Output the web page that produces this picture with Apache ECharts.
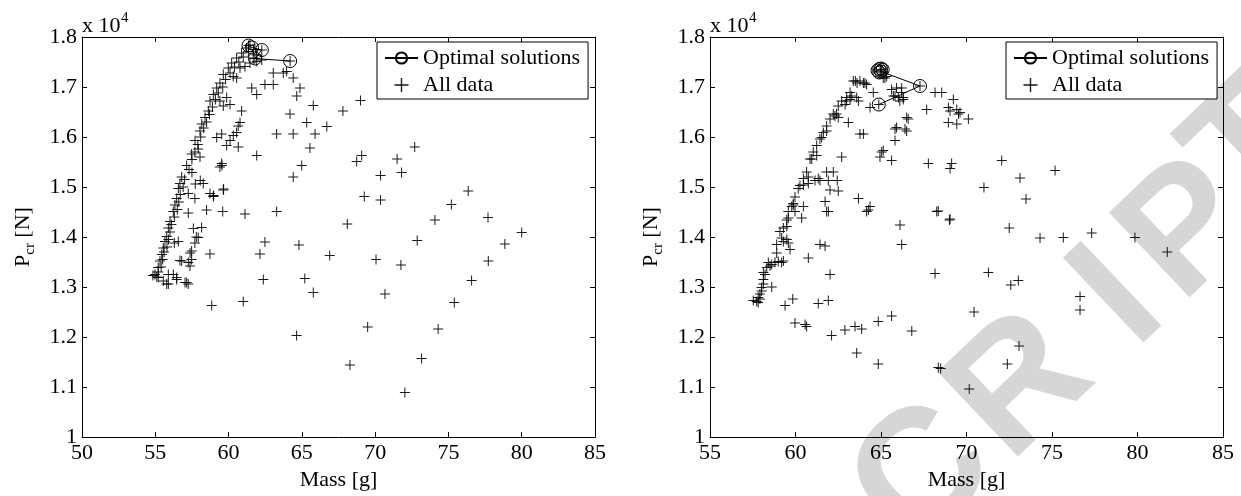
<!DOCTYPE html>
<html>
<head>
<meta charset="utf-8">
<script src="https://cdn.jsdelivr.net/npm/echarts@6/dist/echarts.min.js"></script>
<style>
html,body{margin:0;padding:0;background:#fff;}
#chart{width:1241px;height:496px;}
</style>
</head>
<body>
<div id="chart"></div>
<script>
// ---------------- DATA ----------------
// Mass [g], P_cr [N]
const leftOptimal = [[61.36,17830],[61.6,17790],[62.27,17740],[61.8,17570],[64.2,17520]];
const leftAll = [
[61.46,17840],[61.23,17780],[60.89,17680],[60.55,17580],[60.21,17480],[59.98,17380],[59.64,17250],[59.41,17080],[59.19,16980],[58.96,16850],[58.73,16720],[58.62,16520],[58.39,16390],[58.17,16260],[58.05,16120],[57.71,15930],[57.48,15660],[57.14,15430],[56.8,15200],[56.68,15070],[56.57,14970],[56.46,14770],[56.34,14640],[56.23,14510],[56.0,14310],[55.89,14180],[55.78,14010],[55.66,13910],[55.55,13780],[55.44,13650],[55.32,13520],[55.2,13390],[54.98,13250],[54.84,13230],
[61.7,17750],[61.0,17600],[60.7,17500],[60.4,17400],[60.1,17280],[59.8,17150],[59.6,17000],[59.3,16880],[59.1,16750],[58.9,16600],[58.7,16450],[58.5,16300],[58.3,16180],[58.1,16000],[57.9,15850],[57.7,15700],[57.5,15550],[57.3,15350],[57.0,15150],[56.9,15000],[56.7,14850],[56.6,14700],[56.5,14550],[56.3,14400],[56.1,14250],[56.0,14100],[55.9,13950],[55.8,13800],[55.6,13700],[55.5,13550],[55.4,13400],[55.2,13300],[55.1,13200],
[60.32,17210],[60.55,17180],[60.78,17380],[61.12,17410],[61.46,17480],[61.92,17510],[62.26,17540],[61.92,17640],[61.69,17580],[61.35,17710],[62.27,17740],[61.8,17570],[64.2,17520],[61.36,17830],
[58.05,15600],[57.93,15760],[59.41,15400],[59.53,15470],[59.19,15990],[59.53,16060],[59.87,15830],[60.1,15930],[60.32,16030],[60.55,16090],[60.66,16220],[60.78,16290],[60.66,15800],[60.89,16520],[61.92,15630],[59.87,16790],[60.1,16650],[59.64,16620],[59.41,16720],[61.58,16980],[61.92,16850],[62.48,17050],[63.05,17050],[63.05,17280],[63.73,17280],[63.96,17310],[64.41,17180],[64.87,16980],[64.65,16820],[64.19,16460],[65.33,16290],[63.28,16060],[64.41,16060],[64.99,15430],[64.41,15200],[65.9,16060],[65.78,16630],[65.55,15780],[59.55,15430],[59.66,14960],[58.98,14830],[58.07,15130],[57.73,15060],[57.5,15290],
[66.7,16210],[67.8,16520],[69.0,16730],[68.74,15510],[69.08,15630],[70.37,15230],[71.5,15560],[71.8,15290],[72.7,15800],[69.26,14810],[70.37,14740],[68.1,14260],[74.08,14340],[75.2,14650],[76.35,14920],[77.7,14390],[80.0,14090],[72.87,13930],[78.85,13860],
[66.9,13630],[70.06,13550],[71.76,13440],[65.2,13170],[65.78,12890],[70.67,12860],[69.49,12200],[68.28,11440],[72.03,10890],[73.17,11570],[74.3,12160],[75.4,12690],[76.58,13130],[77.72,13520],
[64.64,12030],[61.0,12710],[58.85,12630],[62.37,13150],[62.14,13660],[62.48,13900],[64.8,13840],[58.73,13660],[57.7,13880],[57.37,13680],[57.48,13550],[57.25,13490],[56.8,13520],[57.14,13090],[56.46,13150],[56.23,13250],[55.89,13060],[55.55,13120],[55.2,13190],[56.3,13880],[56.57,13910],
[59.64,14940],[58.73,14870],[58.96,14810],[58.27,15070],[57.7,14770],[57.25,14870],[57.25,14480],[58.5,14540],[59.6,14510],[61.12,14460],[63.28,14510],[58.16,14190],[57.93,13990],[57.48,13720],[56.68,13530],[57.37,13420],[55.89,13250],[56.46,13190],[57.03,13090],[57.25,13060],[55.78,13060],[57.6,14170],[57.8,14000]
];
const rightOptimal = [[64.8,17330],[64.9,17360],[65.0,17370],[65.1,17350],[65.0,17310],[64.9,17290],[67.28,17020],[64.87,16650]];
const rightAll = [
[58.9,13850],[59.19,13980],[59.29,14180],[59.49,14340],[59.58,14510],[59.87,14640],[59.97,14800],[60.26,15030],[60.46,15170],[60.65,15300],[60.85,15560],[61.04,15700],[61.24,15830],[61.43,15960],[61.63,16090],[61.82,16220],[62.02,16360],[62.21,16460],[62.5,16620],[62.7,16720],[62.99,16790],[63.19,16890],[63.38,17120],[63.77,17120],[64.06,17080],[63.5,17120],[63.6,17080],
[57.73,12710],[57.53,12730],[57.82,12790],[57.92,12860],[58.02,12990],[58.12,13150],[58.22,13250],[58.32,13390],[58.41,13490],[58.61,13450],[58.8,13490],[58.99,13510],[59.29,13520],[58.9,13680],[59.29,13910],[59.49,13950],[59.68,13750],[58.61,13000],[57.82,12690],[57.92,12760],[58.02,12920],[58.12,13060],[58.12,13290],[58.51,13420],[59.19,13490],[59.09,14110],[59.49,14210],[59.58,13880],[59.58,14380],[59.78,14610],[59.87,14670],[59.97,14510],[60.36,14380],[60.46,14610],[60.16,14970],[60.46,15040],[60.75,15070],[61.14,15130],[61.43,15130],[60.75,15200],[61.33,15170],
[62.21,15300],[62.44,15130],[60.95,15560],[61.24,15630],[61.53,15990],[61.82,16120],[62.31,16420],[62.4,16460],[62.5,16390],[62.9,16650],[62.99,16720],[63.19,16750],[63.29,16820],[63.58,16790],[63.68,16720],[63.97,17080],[64.16,17050],
[63.09,16290],[63.77,16060],[63.97,16060],[64.55,16890],[64.36,16590],[65.13,17180],[65.33,17210],[65.23,17180],[65.62,16950],[65.91,16980],[66.2,16890],[66.01,16790],[65.72,16820],[66.3,16750],[66.1,16720],[65.82,16160],[65.91,16190],[66.5,16120],[66.59,16360],[65.82,15930],[66.4,16160],[65.04,15700],[65.13,15730],[64.94,15600],[65.62,15530],[67.77,15470],[69.13,15470],[69.04,15370],[67.67,16550],[68.16,16890],[68.55,16890],[69.23,16750],[68.94,16590],[69.04,16520],[69.43,16550],[69.53,16460],[69.62,16490],[68.94,16290],[69.43,16260],[70.11,16360],[62.7,15600],[72.06,15530],[73.13,15180],[75.18,15330],[71.02,14990],[73.48,14760],[68.35,14520],[69.04,14360],[72.5,14180],[74.3,13980],[75.66,13990],[77.32,14080],[79.85,13990],[81.74,13700],[68.16,13270],[71.28,13290],[72.59,13040],[73.03,13130],[76.64,12810],[76.64,12540],[70.44,12500],[73.07,11820],[68.35,11390],[68.49,11370],[72.39,11460],[70.16,10960],[66.21,13850],[64.84,12310],[65.62,12420],[66.8,12120],[64.84,11460],[63.58,11680],[63.48,12210],[63.87,12160],[62.89,12140],[62.11,12030],[61.33,12670],[61.92,12730],[62.02,13250],[61.43,13850],[61.73,13820],[60.75,13580],[59.84,12760],[59.39,12630],[59.97,12280],[60.56,12250],[60.65,12210],[61.82,15300],[61.92,15130],[62.02,14940],[61.73,14710],[61.82,14510],[63.68,14770],[64.36,14610],[64.16,14510],[64.26,14540],[66.11,14240],[68.26,14510],[69.0,14340],[62.5,14920],[61.92,14510],[66.21,16980],[65.82,16820],[66.3,16790],[66.5,16390],
[65.0,17350],[64.95,17320],[67.28,17020],[64.87,16650],[65.05,17300]
];
const leftXTicks = [50,55,60,65,70,75,80,85];
const rightXTicks = [55,60,65,70,75,80,85];
const yTicks = [10000,11000,12000,13000,14000,15000,16000,17000,18000];
const yTickLabels = ['1','1.1','1.2','1.3','1.4','1.5','1.6','1.7','1.8'];
const seriesNames = ['Optimal solutions','All data'];
const xName = 'Mass [g]';
const yNameParts = ['P','cr',' [N]'];
const scaleText = ['x 10','4'];
const watermarkLetters = ['C','R','I','P','T'];

// ---------------- CHART ----------------
const FONT = '"Liberation Serif", "Times New Roman", serif';
const PLUS = 'path://M4.5,0H5.5V4.5H10V5.5H5.5V10H4.5V5.5H0V4.5H4.5Z';

function xAx(grid, ticks, bottom) {
  return {
    type: 'value', gridIndex: grid, min: ticks[0], max: ticks[ticks.length-1], interval: 5,
    position: bottom ? 'bottom' : 'top',
    axisLine: {show: true, onZero: false, lineStyle: {color: '#000', width: 1}},
    axisTick: {show: true, inside: true, length: 5, lineStyle: {color: '#000', width: 1}},
    axisLabel: {show: bottom, color: '#000', fontFamily: FONT, fontSize: 22, margin: 5},
    splitLine: {show: false},
    name: bottom ? xName : '', nameLocation: 'middle', nameGap: 24,
    nameTextStyle: {color: '#000', fontFamily: FONT, fontSize: 22}
  };
}
function yAx(grid, left) {
  return {
    type: 'value', gridIndex: grid, min: yTicks[0], max: yTicks[yTicks.length-1], interval: 1000,
    position: left ? 'left' : 'right',
    axisLine: {show: true, onZero: false, lineStyle: {color: '#000', width: 1}},
    axisTick: {show: true, inside: true, length: 5, lineStyle: {color: '#000', width: 1}},
    axisLabel: {show: left, color: '#000', fontFamily: FONT, fontSize: 22, margin: 5,
      formatter: v => yTickLabels[yTicks.indexOf(Math.round(v))] || ''},
    splitLine: {show: false},
    name: left ? '{p|' + yNameParts[0] + '}{s|' + yNameParts[1] + '}{p|' + yNameParts[2] + '}' : '',
    nameLocation: 'middle', nameGap: 44, nameRotate: 90,
    nameTextStyle: {color: '#000', fontFamily: FONT, fontSize: 22,
      rich: {
        p: {fontFamily: FONT, fontSize: 22, color: '#000', lineHeight: 30},
        s: {fontFamily: FONT, fontSize: 15, color: '#000', lineHeight: 15, verticalAlign: 'bottom'}
      }}
  };
}
function optSeries(xi, yi, data) {
  return {type: 'line', name: seriesNames[0], xAxisIndex: xi, yAxisIndex: yi, data: data,
    symbol: 'circle', symbolSize: 13, showSymbol: true, showAllSymbol: true,
    lineStyle: {color: '#000', width: 1},
    itemStyle: {color: 'rgba(0,0,0,0)', borderColor: '#000', borderWidth: 1},
    emphasis: {disabled: true}, z: 3, animation: false};
}
function allSeries(xi, yi, data) {
  return {type: 'scatter', name: seriesNames[1], xAxisIndex: xi, yAxisIndex: yi, data: data,
    symbol: PLUS, symbolSize: 10,
    itemStyle: {color: '#000', opacity: 0.9, borderWidth: 0},
    emphasis: {disabled: true}, z: 2, animation: false};
}
function legendAt(left) {
  return {left: left, top: 42, orient: 'vertical', data: seriesNames,
    itemWidth: 33, itemHeight: 14, itemGap: 5, padding: [5, 8, 3, 7],
    borderColor: '#000', borderWidth: 1, backgroundColor: '#fff', borderRadius: 0,
    selectedMode: false,
    textStyle: {color: '#000', fontFamily: FONT, fontSize: 22, lineHeight: 22}};
}
function scaleLabel(x) {
  return [
    {type: 'text', x: x, y: 26, z: 10, style: {text: scaleText[0], font: '22px ' + FONT, fill: '#000', textAlign: 'left', align: 'left', textVerticalAlign: 'middle', verticalAlign: 'middle'}},
    {type: 'text', x: x + 39, y: 18, z: 10, style: {text: scaleText[1], font: '15px ' + FONT, fill: '#000', textAlign: 'left', align: 'left', textVerticalAlign: 'middle', verticalAlign: 'middle'}}
  ];
}
// watermark letter anchor points (pixels) – page decoration, not chart data
const wmPos = [[925,478],[1022,388],[1120,300],[1190,232],[1254,150]];
const watermark = watermarkLetters.map((ch, i) => ({
  type: 'text', x: wmPos[i][0], y: wmPos[i][1], rotation: 0.76, z: -10, silent: true,
  style: {text: ch, font: 'bold 170px "Liberation Sans", Arial, sans-serif', fill: '#d6d6d6',
    textAlign: 'center', align: 'center', textVerticalAlign: 'middle', verticalAlign: 'middle'}
}));

const chart = echarts.init(document.getElementById('chart'), null, {renderer: 'canvas'});
chart.setOption({
  backgroundColor: '#fff',
  animation: false,
  textStyle: {fontFamily: FONT},
  grid: [
    {left: 82, right: 646, top: 37, bottom: 55},
    {left: 710, right: 18, top: 37, bottom: 55}
  ],
  xAxis: [xAx(0, leftXTicks, true), xAx(0, leftXTicks, false), xAx(1, rightXTicks, true), xAx(1, rightXTicks, false)],
  yAxis: [yAx(0, true), yAx(0, false), yAx(1, true), yAx(1, false)],
  legend: [legendAt(377), legendAt(1006)],
  graphic: watermark.concat(scaleLabel(82), scaleLabel(710)),
  series: [
    allSeries(0, 0, leftAll), optSeries(0, 0, leftOptimal),
    allSeries(2, 2, rightAll), optSeries(2, 2, rightOptimal)
  ]
});
</script>
</body>
</html>
